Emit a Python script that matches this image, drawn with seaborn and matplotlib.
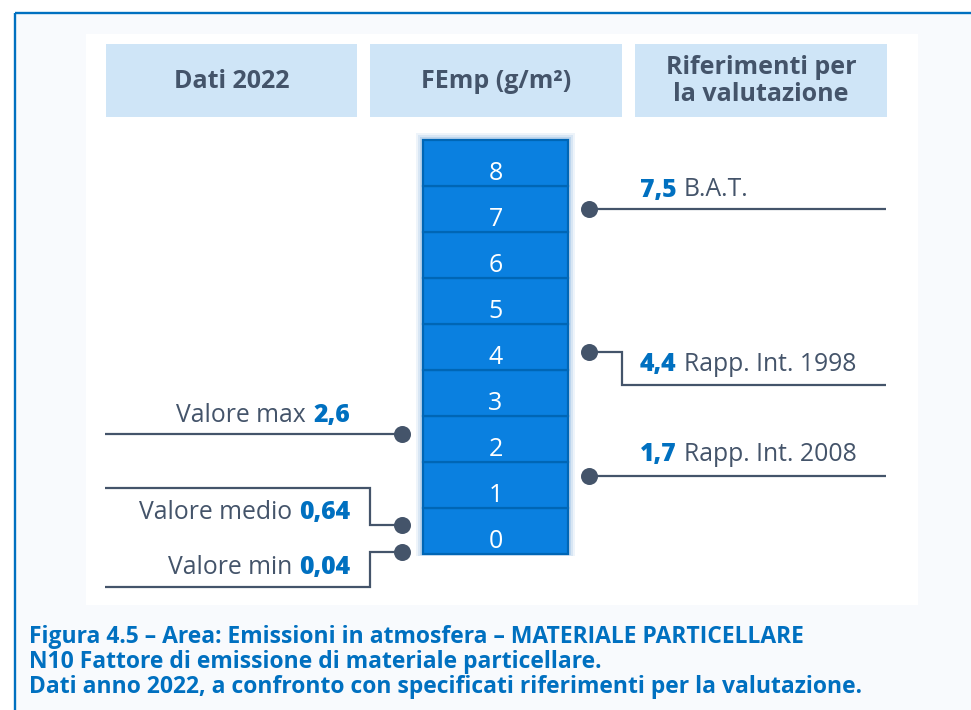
import matplotlib
matplotlib.use("Agg")
import matplotlib.pyplot as plt
import seaborn as sns
import pandas as pd
from matplotlib.patches import Rectangle

# ---------------- data ----------------
headers = ["Dati 2022", "FEmp (g/m²)", "Riferimenti per\nla valutazione"]
scale_ticks = [0, 1, 2, 3, 4, 5, 6, 7, 8]

data_labels = ["Valore max", "Valore medio", "Valore min"]
data_values = [2.6, 0.64, 0.04]
data_value_text = ["2,6", "0,64", "0,04"]

ref_labels = ["B.A.T.", "Rapp. Int. 1998", "Rapp. Int. 2008"]
ref_values = [7.5, 4.4, 1.7]
ref_value_text = ["7,5", "4,4", "1,7"]

caption_lines = [
    "Figura 4.5 – Area: Emissioni in atmosfera – MATERIALE PARTICELLARE",
    "N10 Fattore di emissione di materiale particellare.",
    "Dati anno 2022, a confronto con specificati riferimenti per la valutazione.",
]

# ---------------- style ----------------
sns.set_theme(style="white")
plt.rcParams["font.family"] = ["Open Sans", "DejaVu Sans"]

SLATE = "#44546A"
BLUE = "#0070C0"
CELL = "#0A80E0"
CELL_EDGE = "#0066B5"
HEAD_BG = "#CFE5F7"

W, H = 971, 710
fig = plt.figure(figsize=(W / 100, H / 100), dpi=100)

# layout axes (pixel coordinates)
lay = fig.add_axes([0, 0, 1, 1])
lay.set_xlim(0, W)
lay.set_ylim(H, 0)
lay.axis("off")

# data axes (x in layout pixels, y in g/m2)
ax = fig.add_axes([0, 0, 1, 1])
BASE_PX, UNIT_PX = 554, 46
ax.set_xlim(0, W)
ax.set_ylim(-(H - BASE_PX) / UNIT_PX, BASE_PX / UNIT_PX)
ax.axis("off")
ax.patch.set_alpha(0)
PX = 1 / UNIT_PX  # value units per pixel

# ---------------- background / frame ----------------
lay.add_patch(Rectangle((15, 12.5), W, H, facecolor="#F8FAFD", edgecolor="none", zorder=0))
lay.plot([15, W], [12.5, 12.5], color=BLUE, lw=1.7, solid_capstyle="butt", zorder=1)
lay.plot([15, 15], [12.5, H], color=BLUE, lw=1.7, solid_capstyle="butt", zorder=1)
lay.add_patch(Rectangle((86, 34), 832, 571, facecolor="white", edgecolor="none", zorder=0.5))

header_boxes = [(106, 357), (370, 622), (635, 887)]
for (x0, x1), txt in zip(header_boxes, headers):
    lay.add_patch(Rectangle((x0, 44), x1 - x0, 73, facecolor=HEAD_BG, edgecolor="none", zorder=1))
    lay.text((x0 + x1) / 2, 81, txt, ha="center", va="center", fontsize=18,
             fontweight="bold", color=SLATE, linespacing=1.15, zorder=2)

for i, line in enumerate(caption_lines):
    lay.text(29, 637 + 25 * i, line, ha="left", va="center", fontsize=16.5,
             fontweight="bold", color=BLUE, zorder=2)

# ---------------- scale column ----------------
COL_X0, COL_X1 = 423, 568
col_x = (COL_X0 + COL_X1) / 2
col_w = COL_X1 - COL_X0
for pad, alpha in [(7, 0.10), (5, 0.15), (3, 0.22)]:
    ax.add_patch(Rectangle((COL_X0 - pad, -pad * PX * 0.3), col_w + 2 * pad,
                           len(scale_ticks) + pad * PX * 1.3,
                           facecolor="#5B9BD5", edgecolor="none", alpha=alpha, zorder=1))

cells = pd.DataFrame({"tick": scale_ticks})
ax.bar([col_x] * len(cells), [1] * len(cells), bottom=cells["tick"], width=col_w,
       color=CELL, edgecolor=CELL_EDGE, linewidth=1.6, zorder=2)
for k in scale_ticks:
    ax.text(col_x, k + 0.5 - 11 * PX, str(k), ha="center", va="center",
            color="white", fontsize=18, zorder=3)

# ---------------- connectors ----------------
LINE_KW = dict(color=SLATE, lw=1.6, solid_capstyle="butt", solid_joinstyle="miter", zorder=4)
FS = 17.8

# left side (data)
L_MARK, L_ELBOW, L_FAR, L_TEXT = 402, 370, 105, 350
left_elbow = [None, 0.79, -0.76]        # label-line offset (value units)
left_text_dy = [19, -24, 20]            # text centre above label line (px)
# right side (references)
R_MARK, R_ELBOW, R_FAR, R_TEXT = 589, 622, 886, 640
right_elbow = [None, -0.72, None]
right_text_dy = [19, 20, 21]

renderer = fig.canvas.get_renderer()

for val, lab, vt, el, dy in zip(data_values, data_labels, data_value_text, left_elbow, left_text_dy):
    if el is None:
        ax.plot([L_FAR, L_MARK], [val, val], **LINE_KW)
        ly = val
    else:
        ly = val + el
        ax.plot([L_MARK, L_ELBOW, L_ELBOW, L_FAR], [val, val, ly, ly], **LINE_KW)
    ty = ly + dy * PX
    t = ax.text(L_TEXT, ty, vt, ha="right", va="center", fontsize=FS,
                fontweight="heavy", color=BLUE, zorder=5)
    w = t.get_window_extent(renderer).width
    ax.text(L_TEXT - w - 7, ty, lab, ha="right", va="center", fontsize=FS,
            color=SLATE, zorder=5)

for val, lab, vt, el, dy in zip(ref_values, ref_labels, ref_value_text, right_elbow, right_text_dy):
    if el is None:
        ax.plot([R_MARK, R_FAR], [val, val], **LINE_KW)
        ly = val
    else:
        ly = val + el
        ax.plot([R_MARK, R_ELBOW, R_ELBOW, R_FAR], [val, val, ly, ly], **LINE_KW)
    ty = ly + dy * PX
    t = ax.text(R_TEXT, ty, vt, ha="left", va="center", fontsize=FS,
                fontweight="heavy", color=BLUE, zorder=5)
    w = t.get_window_extent(renderer).width
    ax.text(R_TEXT + w + 7, ty, lab, ha="left", va="center", fontsize=FS,
            color=SLATE, zorder=5)

markers = pd.DataFrame({
    "x": [L_MARK] * len(data_values) + [R_MARK] * len(ref_values),
    "y": data_values + ref_values,
})
sns.scatterplot(data=markers, x="x", y="y", ax=ax, s=150, color=SLATE,
                edgecolor=SLATE, linewidth=0, zorder=6, legend=False)
ax.set_xlim(0, W)
ax.set_ylim(-(H - BASE_PX) / UNIT_PX, BASE_PX / UNIT_PX)
ax.axis("off")

fig.savefig("out.png", dpi=100)
